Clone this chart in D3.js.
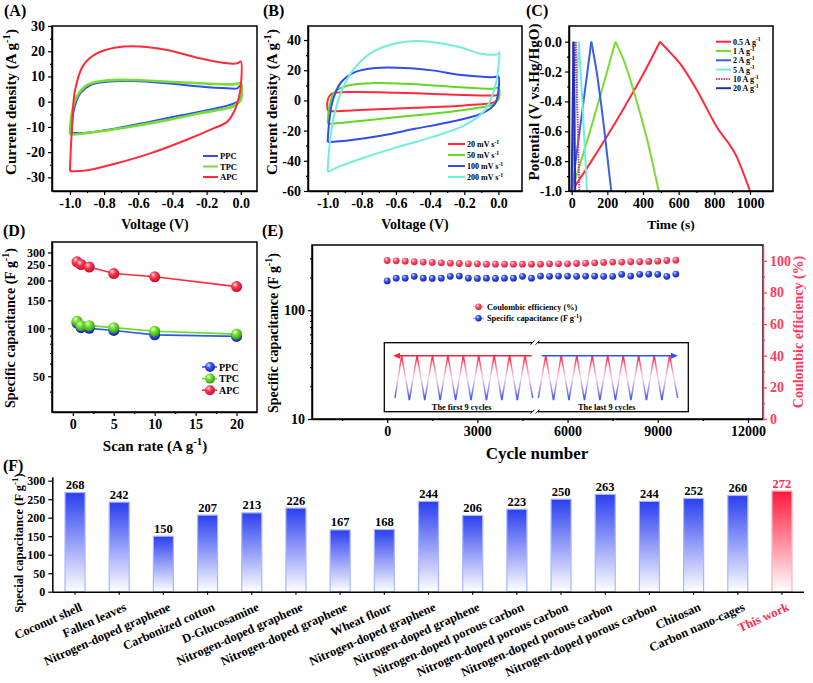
<!DOCTYPE html>
<html><head><meta charset="utf-8">
<script src="https://cdn.jsdelivr.net/npm/d3@7"></script>
<style>body{margin:0;background:#fff}</style>
</head><body><script>
// ---------------- DATA ----------------
// (A) CV loops at 100 mV/s, [V, I]
const cvPPC = [[-0.99,-12.3],[-0.977,-3.3],[-0.94,3.3],[-0.88,6.6],[-0.785,7.9],[-0.63,8.2],[-0.43,7.3],[-0.24,6],[-0.08,5.3],[-0.02,5.3],[0,6.6],[0,1.3],[-0.04,-0.7],[-0.14,-2.6],[-0.34,-5.3],[-0.53,-7.9],[-0.73,-10.6],[-0.9,-12.3],[-0.99,-12.3]];
const cvTPC = [[-1.0,-13],[-0.99,-5],[-0.96,2],[-0.9,6.6],[-0.8,8.3],[-0.63,8.6],[-0.43,7.9],[-0.24,7.3],[-0.04,6.9],[0,7.3],[0.005,3],[0,0.7],[-0.04,-1.7],[-0.24,-4.6],[-0.43,-7.3],[-0.63,-9.7],[-0.82,-11.7],[-0.99,-13],[-1.0,-13]];
const cvAPC = [[-1.0,-27.6],[-0.99,-12.6],[-0.97,4.6],[-0.92,14.6],[-0.84,19.2],[-0.73,21.5],[-0.59,21.9],[-0.43,20.5],[-0.24,17.2],[-0.08,15.2],[-0.02,15.2],[0.0,15.9],[0.0,6],[-0.01,2],[-0.04,-4],[-0.08,-8],[-0.16,-10.6],[-0.32,-15.2],[-0.53,-20.5],[-0.73,-24.5],[-0.9,-27.2],[-1.0,-27.6]];
const seriesA = ["PPC","TPC","APC"];
// (B) APC CV loops at scan rates
const cv20 = [[-1,-6.6],[-1,0],[-0.977,4.4],[-0.88,5.5],[-0.59,5.1],[-0.29,4],[-0.02,3.3],[0,3.8],[0,1.1],[-0.02,-1.1],[-0.2,-3.3],[-0.49,-4.9],[-0.78,-6.2],[-0.98,-7.1],[-1,-6.6]];
const cv50 = [[-1,-15.5],[-0.99,-4.4],[-0.96,5.5],[-0.88,9.9],[-0.72,11.5],[-0.55,11],[-0.29,9.3],[-0.04,7.7],[0,8.2],[0.004,2.2],[-0.02,-2.2],[-0.12,-4.9],[-0.29,-7.7],[-0.59,-11],[-0.78,-13.3],[-0.98,-15.5],[-1,-15.5]];
const cv100 = [[-1,-27.6],[-0.99,-13.3],[-0.97,0],[-0.92,12.2],[-0.84,18.8],[-0.72,21.5],[-0.55,21.5],[-0.39,19.9],[-0.2,16.6],[-0.02,15.5],[0,15.9],[0,6.6],[-0.02,-2.2],[-0.1,-8.8],[-0.29,-14.4],[-0.49,-18.8],[-0.68,-23.2],[-0.88,-26.5],[-1,-27.6]];
const cv200 = [[-1,-47.5],[-0.99,-30.9],[-0.96,-8.8],[-0.9,11],[-0.82,24.3],[-0.72,33.1],[-0.59,38],[-0.49,39.3],[-0.39,38.7],[-0.23,35.4],[-0.1,30.9],[-0.02,30.3],[0,30.9],[0.006,32],[0,22],[-0.02,8.8],[-0.08,-6.6],[-0.2,-16.6],[-0.39,-24.3],[-0.59,-30.9],[-0.78,-37.6],[-0.94,-44.2],[-1,-47.5]];
const scanRatesB = ["20","50","100","200"];
// (C) GCD curves [t, V]
const gcd05 = [[0,-1],[100,-0.82],[200,-0.63],[300,-0.43],[400,-0.22],[495,0],[550,-0.07],[607,-0.145],[700,-0.32],[813,-0.57],[925,-0.77],[1000,-1]];
const gcd1 = [[0,-1],[60,-0.77],[120,-0.53],[180,-0.28],[245,0],[300,-0.15],[360,-0.38],[420,-0.64],[488,-1]];
const gcd2 = [[0,-1],[30,-0.73],[60,-0.46],[110,0],[140,-0.2],[180,-0.56],[222,-1]];
const gcd5 = [[0,-1],[20,-0.5],[40,0],[60,-0.4],[86,-1]];
const gcd10 = [[0,-1],[11,-0.5],[22,0],[32,-0.45],[43,-1]];
const gcd20 = [[0,-1],[10,0],[20,-1]];
const currentsC = ["0.5","1","2","5","10","20"];
// (D) rate capability
const ratesD = [0.5,1,2,5,10,20];
const capPPC = [108,101,100,97,91,89];
const capTPC = [111,104,104,101,96,92];
const capAPC = [262,252,243,221,211,183];
// (E) cycling
const cyclesE = [0,300,600,900,1200,1500,1800,2100,2400,2700,3000,3300,3600,3900,4200,4500,4800,5100,5400,5700,6000,6300,6600,6900,7200,7500,7800,8100,8400,8700,9000,9300,9600];
const ceE = [100.2,100,99.8,99.4,99.2,99,98.7,98.5,98.3,98.1,98.1,97.9,97.9,97.9,97.9,97.9,97.9,97.9,98.1,98.1,98.1,98.3,98.5,98.7,99,99.2,99.2,99.4,99.4,99.6,99.8,100.2,100.4];
const scE = [186,197,197,205,197,196,197,205,206,197,196,197,196,197,197,205,197,206,205,206,206,205,206,206,205,205,214,206,214,215,214,205,215];
// inset schematic: vertices (cycle-time, normalised potential)
const insetFirstT = [0,0.43,0.93,1.43,1.93,2.43,2.93,3.43,3.93,4.43,4.93,5.43,5.93,6.43,6.93,7.43,7.93,8.43,8.93];
const insetFirstV = [0.05,1,0,1,0,1,0,1,0,1,0,1,0,1,0,1,0,1,0.05];
const insetLastT = [0,0.48,0.98,1.48,1.98,2.48,2.98,3.48,3.98,4.48,4.98,5.48,5.98,6.48,6.98,7.48,7.98,8.48,9.0];
const insetLastV = [0.05,1,0,1,0,1,0,1,0,1,0,1,0,1,0,1,0,1,0.05];
// (F) comparison
const materialsF = ["Coconut shell","Fallen leaves","Nitrogen-doped graphene","Carbonized cotton","D-Glucosamine","Nitrogen-doped graphene","Nitrogen-doped graphene","Wheat flour","Nitrogen-doped graphene","Nitrogen-doped graphene","Nitrogen-doped porous carbon","Nitrogen-doped porous carbon","Nitrogen-doped porous carbon","Nitrogen-doped porous carbon","Chitosan","Carbon nano-cages","This work"];
const capF = [268,242,150,207,213,226,167,168,244,206,223,250,263,244,252,260,272];

// ---------------- SETUP ----------------
const FONT = '"Liberation Serif","Times New Roman",Times,serif';
const svg = d3.select("body").append("svg").attr("width",813).attr("height",683);
svg.append("rect").attr("width",813).attr("height",683).attr("fill","#fff");
const defs = svg.append("defs");

function styleAxis(g,size,color){
  g.attr("font-family",FONT).attr("font-size",size).attr("font-weight","bold");
  g.selectAll("line").attr("stroke",color).attr("stroke-width",1.2);
  g.selectAll("path.domain").attr("stroke",color).attr("stroke-width",1.5);
  g.selectAll("text").attr("fill",color);
}
function addAxis(kind,scale,pos,major,minor,fmt,opts={}){
  const color=opts.color||"#000", size=opts.size||14;
  const mk={left:d3.axisLeft,bottom:d3.axisBottom,right:d3.axisRight}[kind];
  const tr = kind==="bottom"?`translate(0,${pos})`:`translate(${pos},0)`;
  const g = svg.append("g").attr("transform",tr)
    .call(mk(scale).tickValues(major).tickFormat(fmt).tickSize(opts.tick||4).tickSizeOuter(0).tickPadding(opts.pad||3));
  styleAxis(g,size,color);
  if(minor && minor.length){
    const m = svg.append("g").attr("transform",tr)
      .call(mk(scale).tickValues(minor).tickFormat("").tickSize(2).tickSizeOuter(0));
    m.select(".domain").remove();
    styleAxis(m,size,color);
  }
  return g;
}
function frame(x0,x1,y0,y1){
  svg.append("rect").attr("x",x0).attr("y",y0).attr("width",x1-x0).attr("height",y1-y0)
    .attr("fill","none").attr("stroke","#000").attr("stroke-width",1.5);
}
function rich(x,y,parts,size,rot=0,color="#000",anchor="middle"){
  const t = svg.append("text").attr("transform",`translate(${x},${y}) rotate(${rot})`)
    .attr("text-anchor",anchor).attr("font-family",FONT).attr("font-weight","bold")
    .attr("font-size",size).attr("fill",color);
  let up=false;
  parts.forEach(p=>{
    const sup=Array.isArray(p);
    const s=t.append("tspan").text(sup?p[0]:p);
    if(sup){s.attr("font-size",size*0.72).attr("dy",-size*0.42);up=true;}
    else if(up){s.attr("dy",size*0.42);up=false;}
  });
  return t;
}
const f1 = d=>d.toFixed(1), f0 = d=>String(d);

// sphere gradients
function sphere(id,light,mid,dark){
  const g=defs.append("radialGradient").attr("id",id).attr("cx","40%").attr("cy","38%").attr("r","60%").attr("fx","35%").attr("fy","30%");
  g.append("stop").attr("offset","0").attr("stop-color",light);
  g.append("stop").attr("offset","0.45").attr("stop-color",mid);
  g.append("stop").attr("offset","1").attr("stop-color",dark);
}
sphere("sRed","#ffe0e6","#ff3550","#c8102c");
sphere("sBlue","#dfe4ff","#3a58f0","#1626b0");
sphere("sGreen","#eaffd8","#6ee030","#3c9e10");
sphere("sPink","#ffe6ea","#ff5570","#d82040");

// ---------------- (A) ----------------
{
  const x=d3.scaleLinear([-1.105,0.095],[52,257]);
  const y=d3.scaleLinear([-35.4,30],[191,26]);
  addAxis("bottom",x,191,[-1,-0.8,-0.6,-0.4,-0.2,0],[-0.9,-0.7,-0.5,-0.3,-0.1],f1);
  addAxis("left",y,52,[-30,-20,-10,0,10,20,30],[-25,-15,-5,5,15,25],f0);
  const line=d3.line().x(d=>x(d[0])).y(d=>y(d[1])).curve(d3.curveCatmullRom.alpha(0.5));
  const cols=["#3050ee","#77dd33","#ff2a3a"];
  [cvPPC,cvTPC,cvAPC].forEach((c,i)=>svg.append("path").attr("d",line(c)).attr("fill","none")
     .attr("stroke",cols[i]).attr("stroke-width",i===1?2.6:2));
  frame(52,257,26,191);
  seriesA.forEach((s,i)=>{
    const yy=156+i*10.5;
    svg.append("line").attr("x1",203).attr("x2",218).attr("y1",yy).attr("y2",yy).attr("stroke",cols[i]).attr("stroke-width",2);
    rich(220,yy+3,[s],8.5,0,"#000","start");
  });
  rich(155,229,["Voltage (V)"],14);
  rich(16,102,["Current density (A g",["-1"],")"],15,-90);
  rich(4,16,["(A)"],16,0,"#000","start");
}
// ---------------- (B) ----------------
{
  const x=d3.scaleLinear([-1.115,0.138],[308,522]);
  const y=d3.scaleLinear([-60,49.3],[191,26]);
  addAxis("bottom",x,191,[-1,-0.8,-0.6,-0.4,-0.2,0],[-0.9,-0.7,-0.5,-0.3,-0.1],f1);
  addAxis("left",y,308,[-60,-40,-20,0,20,40],[-50,-30,-10,10,30],f0);
  const line=d3.line().x(d=>x(d[0])).y(d=>y(d[1])).curve(d3.curveCatmullRom.alpha(0.5));
  const cols=["#ff2a3a","#66d622","#2f4ee8","#70eedd"];
  [cv20,cv50,cv100,cv200].forEach((c,i)=>svg.append("path").attr("d",line(c)).attr("fill","none")
     .attr("stroke",cols[i]).attr("stroke-width",2));
  frame(308,522,26,191);
  scanRatesB.forEach((s,i)=>{
    const yy=144+i*11;
    svg.append("line").attr("x1",448).attr("x2",465).attr("y1",yy).attr("y2",yy).attr("stroke",cols[i]).attr("stroke-width",2);
    rich(467,yy+3,[s+" mV s",["-1"]],8,0,"#000","start");
  });
  rich(415,229,["Voltage (V)"],14);
  rich(277,102,["Current density (A g",["-1"],")"],15,-90);
  rich(263,16,["(B)"],16,0,"#000","start");
}
// ---------------- (C) ----------------
{
  const x=d3.scaleLinear([-15,1129],[569,773]);
  const y=d3.scaleLinear([-1,0.105],[191,26]);
  addAxis("bottom",x,191,[0,200,400,600,800,1000],[100,300,500,700,900],f0);
  addAxis("left",y,569,[-1,-0.8,-0.6,-0.4,-0.2,0],[-0.9,-0.7,-0.5,-0.3,-0.1],f1);
  const line=d3.line().x(d=>x(d[0])).y(d=>y(d[1])).curve(d3.curveMonotoneX);
  const cols=["#ff2a3a","#77dd33","#3a5cf0","#70eedd","#cc3f8a","#2030b8"];
  [gcd05,gcd1,gcd2,gcd5,gcd10,gcd20].forEach((c,i)=>{
    const pk=d3.maxIndex(c,d=>d[1]);
    [c.slice(0,pk+1),c.slice(pk)].forEach(seg=>{
      const p=svg.append("path").attr("d",line(seg)).attr("fill","none")
        .attr("stroke",cols[i]).attr("stroke-width",2);
      if(i===4) p.attr("stroke-dasharray","1.5,1");
    });
  });
  frame(569,773,26,191);
  currentsC.forEach((s,i)=>{
    const yy=41.7+i*9.3;
    const l=svg.append("line").attr("x1",716).attr("x2",731).attr("y1",yy).attr("y2",yy).attr("stroke",cols[i]).attr("stroke-width",2);
    if(i===4) l.attr("stroke-dasharray","1.5,1");
    rich(733,yy+3,[s+" A g",["-1"]],8,0,"#000","start");
  });
  rich(671,229,["Time (s)"],13.5);
  rich(539,102,["Potential (V vs.Hg/HgO)"],15,-90);
  rich(526,16,["(C)"],16,0,"#000","start");
}
// ---------------- (D) ----------------
{
  const x=d3.scaleLinear([-2.55,22.5],[52,257]);
  const y=d3.scaleLog([29.8,349],[412,242]);
  addAxis("bottom",x,412,[0,5,10,15,20],[2.5,7.5,12.5,17.5],f0);
  addAxis("left",y,52,[50,100,150,200,250,300],[40,60,70,80,90],f0,{size:12});
  const sets=[[capPPC,"#3355ee","sBlue"],[capTPC,"#66dd22","sGreen"],[capAPC,"#ff2a3a","sRed"]];
  const line=d3.line().x((d,i)=>x(ratesD[i])).y(d=>y(d));
  sets.forEach(([v,c,g])=>{
    svg.append("path").attr("d",line(v)).attr("fill","none").attr("stroke",c).attr("stroke-width",1.6);
  });
  sets.forEach(([v,c,g])=>{
    svg.append("g").selectAll("circle").data(v).join("circle")
      .attr("cx",(d,i)=>x(ratesD[i])).attr("cy",d=>y(d)).attr("r",5.5).attr("fill",`url(#${g})`);
  });
  frame(52,257,242,412);
  ["PPC","TPC","APC"].forEach((s,i)=>{
    const yy=367+i*11.6;
    svg.append("line").attr("x1",202).attr("x2",217).attr("y1",yy).attr("y2",yy).attr("stroke",sets[i][1]).attr("stroke-width",1.6);
    svg.append("circle").attr("cx",210).attr("cy",yy).attr("r",5).attr("fill",`url(#${sets[i][2]})`);
    rich(219,yy+3.5,[s],10,0,"#000","start");
  });
  rich(155,451,["Scan rate (A g",["-1"],")"],15);
  rich(15,328,["Specific capacitance (F g",["-1"],")"],14,-90);
  rich(3,236,["(D)"],16,0,"#000","start");
}
// ---------------- (E) ----------------
{
  const x=d3.scaleLinear([-2500,12500],[312,763]);
  const yL=d3.scaleLog([10,398],[419,245]);
  const yR=d3.scaleLinear([0,110],[419,245]);
  addAxis("bottom",x,419,[0,3000,6000,9000,12000],[-1500,1500,4500,7500,10500],f0);
  addAxis("left",yL,312,[10,100],[20,30,40,50,60,70,80,90,200,300],f0);
  frame(312,763,245,419);
  addAxis("right",yR,763,[0,20,40,60,80,100],[10,30,50,70,90],f0,{color:"#ff3a5c"});
  svg.append("g").selectAll("circle").data(ceE).join("circle")
    .attr("cx",(d,i)=>x(cyclesE[i])).attr("cy",d=>yR(d)).attr("r",3.4).attr("fill","url(#sPink)");
  svg.append("g").selectAll("circle").data(scE).join("circle")
    .attr("cx",(d,i)=>x(cyclesE[i])).attr("cy",d=>yL(d)).attr("r",3.4).attr("fill","url(#sBlue)");
  // legend
  [["Coulombic efficiency (%)","sPink","#ff8aa0"],["Specific capacitance (F g","sBlue","#8899ff"]].forEach((l,i)=>{
    const yy=306.7+i*11.6;
    svg.append("line").attr("x1",473).attr("x2",484).attr("y1",yy).attr("y2",yy).attr("stroke",l[2]).attr("stroke-width",1);
    svg.append("circle").attr("cx",478.5).attr("cy",yy).attr("r",3.2).attr("fill",`url(#${l[1]})`);
    if(i===0) rich(487,yy+3,[l[0]],8.3,0,"#000","start");
    else rich(487,yy+3,[l[0],["-1"],")"],8.3,0,"#000","start");
  });
  // inset
  const gi=defs.append("linearGradient").attr("id","wave").attr("gradientUnits","userSpaceOnUse")
    .attr("x1",0).attr("x2",0).attr("y1",355).attr("y2",401);
  gi.append("stop").attr("offset","0").attr("stop-color","#ff1a3c");
  gi.append("stop").attr("offset","0.5").attr("stop-color","#ffd8e8");
  gi.append("stop").attr("offset","1").attr("stop-color","#2f48ff");
  svg.append("rect").attr("x",384.3).attr("y",342.7).attr("width",304).attr("height",69)
    .attr("fill","#fff").attr("stroke","#000").attr("stroke-width",1.3);
  const iv=d3.scaleLinear([0,1],[400,355.7]);
  const ix1=d3.scaleLinear([0,8.93],[395,532.7]);
  const ix2=d3.scaleLinear([0,9.0],[538.3,677.7]);
  svg.append("path").attr("d",d3.line()(insetFirstT.map((t,i)=>[ix1(t),iv(insetFirstV[i])])))
    .attr("fill","none").attr("stroke","url(#wave)").attr("stroke-width",1.5);
  svg.append("path").attr("d",d3.line()(insetLastT.map((t,i)=>[ix2(t),iv(insetLastV[i])])))
    .attr("fill","none").attr("stroke","url(#wave)").attr("stroke-width",1.5);
  svg.append("line").attr("x1",531.7).attr("x2",397).attr("y1",355.7).attr("y2",355.7).attr("stroke","#ff2040").attr("stroke-width",1.6);
  svg.append("path").attr("d","M393,355.7 L400,352.7 L400,358.7 Z").attr("fill","#ff2040");
  svg.append("line").attr("x1",541.7).attr("x2",673).attr("y1",355.7).attr("y2",355.7).attr("stroke","#3050ff").attr("stroke-width",1.6);
  svg.append("path").attr("d","M678,355.7 L671,352.7 L671,358.7 Z").attr("fill","#3050ff");
  [342.7,411.7].forEach(yy=>{
    svg.append("rect").attr("x",532).attr("y",yy-2).attr("width",6).attr("height",4).attr("fill","#fff");
    svg.append("line").attr("x1",530.5).attr("x2",534.5).attr("y1",yy+2).attr("y2",yy-2).attr("stroke","#000").attr("stroke-width",1);
    svg.append("line").attr("x1",535.5).attr("x2",539.5).attr("y1",yy+2).attr("y2",yy-2).attr("stroke","#000").attr("stroke-width",1);
  });
  rich(461.7,409.5,["The first 9 cycles"],8.3);
  rich(606.7,409.5,["The last 9 cycles"],8.3);
  rich(537,459,["Cycle number"],17);
  rich(278,333,["Specific capacitance (F g",["-1"],")"],14,-90);
  rich(803,332,["Coulombic efficiency (%)"],14,-90,"#ff3a5c");
  rich(262,236,["(E)"],16,0,"#000","start");
}
// ---------------- (F) ----------------
{
  const x=d3.scaleBand(d3.range(materialsF.length),[53,804]).paddingInner(0.547).paddingOuter(0.272);
  const y=d3.scaleLinear([0,310.8],[591.7,476.7]);
  const gb=defs.append("linearGradient").attr("id","barBlue").attr("x1",0).attr("x2",0).attr("y1",0).attr("y2",1);
  gb.append("stop").attr("offset","0").attr("stop-color","#2a3ff0");
  gb.append("stop").attr("offset","1").attr("stop-color","#ffffff");
  const gr=defs.append("linearGradient").attr("id","barRed").attr("x1",0).attr("x2",0).attr("y1",0).attr("y2",1);
  gr.append("stop").attr("offset","0").attr("stop-color","#ff1a3c");
  gr.append("stop").attr("offset","1").attr("stop-color","#ffffff");
  const last=materialsF.length-1;
  svg.append("g").selectAll("rect").data(capF).join("rect")
    .attr("x",(d,i)=>x(i)).attr("width",x.bandwidth()).attr("y",d=>y(d)).attr("height",d=>y(0)-y(d))
    .attr("fill",(d,i)=>i===last?"url(#barRed)":"url(#barBlue)")
    .attr("stroke",(d,i)=>i===last?"#ffb0bf":"#a9b6ff").attr("stroke-width",1.2);
  svg.append("g").selectAll("text").data(capF).join("text")
    .attr("x",(d,i)=>x(i)+x.bandwidth()/2).attr("y",d=>y(d)-3.5).attr("text-anchor","middle")
    .attr("font-family",FONT).attr("font-weight","bold").attr("font-size",12.5)
    .attr("fill",(d,i)=>i===last?"#ff2a4a":"#000").text(d=>d);
  addAxis("left",y,52.3,[0,50,100,150,200,250,300],[],f0,{size:12});
  const gx=svg.append("g").attr("transform","translate(0,591.7)")
    .call(d3.axisBottom(x).tickFormat("").tickSize(3).tickSizeOuter(0));
  styleAxis(gx,12,"#000");
  gx.select(".domain").attr("d","M52.3,0.5H804");
  svg.append("g").selectAll("text").data(materialsF).join("text")
    .attr("transform",(d,i)=>`translate(${x(i)+x.bandwidth()/2+8},${610}) rotate(-24)`)
    .attr("text-anchor","end").attr("font-family",FONT).attr("font-weight","bold").attr("font-size",12.5)
    .attr("fill",(d,i)=>i===last?"#ff2a4a":"#000").text(d=>d);
  rich(23,543,["Special capacitance (F g",["-1"],")"],12.5,-90);
  rich(3,471,["(F)"],16,0,"#000","start");
}
</script></body></html>
